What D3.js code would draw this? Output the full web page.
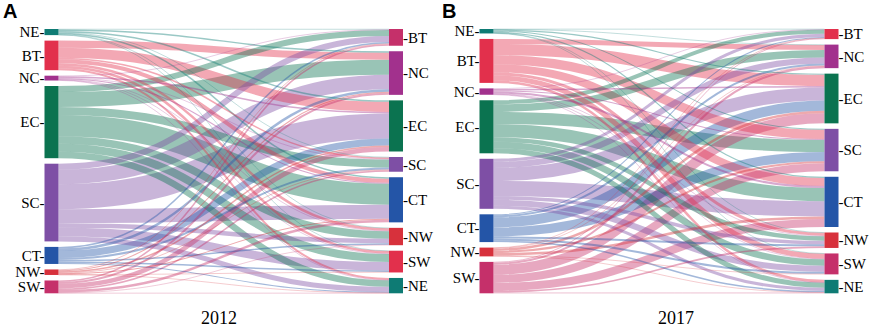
<!DOCTYPE html>
<html>
<head>
<meta charset="utf-8">
<script src="https://cdn.jsdelivr.net/npm/d3@7"></script>
<style>
  body { margin: 0; background: #fff; }
  svg { display: block; }
</style>
</head>
<body>
<svg id="chart" width="872" height="328"></svg>
<script>
// regions, in the order they are stacked on each side
const leftOrder = ['NE', 'BT', 'NC', 'EC', 'SC', 'CT', 'NW', 'SW']
const rightOrder = ['BT', 'NC', 'EC', 'SC', 'CT', 'NW', 'SW', 'NE']
const regionColors = {
  NE: '#0e7b74', BT: '#e2304c', NC: '#a2318d', EC: '#0b7350',
  SC: '#7e4fa5', CT: '#2455a7', NW: '#d7313c', SW: '#c5306a'
}
// in panel A the right-hand BT / SW boxes use each other's colour
const rightColors2012 = Object.assign({}, regionColors, {BT: '#c5306a', SW: '#e2304c'})
const panelLetters = ['A', 'B']
const years = ['2012', '2017']

// rows = source (leftOrder), columns = target (rightOrder)
const flows2012 = [
  [0.5, 1.5, 1.5, 0.5, 1.5, 0.3, 0.3, 0],    // NE
  [0,   7,   10,  1.5, 4,   2.5, 2.5, 2],    // BT
  [0.5, 0,   1.5, 0.5, 1,   0.5, 0.5, 0.3],  // NC
  [6,   15,  0,   8,   21,  7.5, 8,   6.5],  // EC
  [6,   14.5, 25, 0,   14,  4.5, 8.5, 5],    // SC
  [1.5, 2.5, 7,   2,   0,   1.5, 1.5, 1],    // CT
  [0.7, 1,   1.5, 0.7, 1,   0,   0.4, 0.2],  // NW
  [1.5, 2,   4.5, 1.5, 2.5, 0.5, 0,   0.3]   // SW
]
const flows2017 = [
  [0.3, 0.3, 1.2, 1,   1.2, 0.2, 0.2, 0],    // NE
  [0,   5,   11,  9,   8,   3,   5,   2.5],  // BT
  [0.5, 0,   1.5, 1,   2,   0.5, 0.5, 0.3],  // NC
  [4,   7.5, 0,   12,  13,  4.5, 6.5, 5],    // EC
  [3,   6,   13,  0,   15,  3.5, 6,   3],    // SC
  [1,   2,   10,  9,   0,   2,   2,   1.5],  // CT
  [0.4, 0.5, 2.5, 2,   2.5, 0,   0.5, 0.3],  // NW
  [0.8, 2,   10,  8,   8,   1.6, 0,   0.7]   // SW
]

const svg = d3.select('#chart')
const nodeW = 14
const nodePad = 5.5
const plotTop = 29
const plotBottom = 293.3
const labelFont = '"Liberation Serif", "Times New Roman", serif'

const panels = [
  {flows: flows2012, rightColors: rightColors2012, xLeft: 44.5, xRight: 389, letterX: 3, yearX: 219},
  {flows: flows2017, rightColors: regionColors, xLeft: 479.5, xRight: 824.5, letterX: 442, yearX: 676}
]

panels.forEach((p, pi) => drawPanel(p, pi))

function drawPanel(p, pi) {
  const g = svg.append('g')
  const flows = p.flows
  const leftSums = flows.map(row => d3.sum(row))
  const rightSums = rightOrder.map((_, j) => d3.sum(flows, row => row[j]))
  const total = d3.sum(leftSums)

  const hScale = d3.scaleLinear()
    .domain([0, total])
    .range([0, (plotBottom - plotTop) - nodePad * (leftOrder.length - 1)])

  // stack nodes on each side
  const leftNodes = []
  let y = plotTop
  leftOrder.forEach((name, i) => {
    const h = hScale(leftSums[i])
    leftNodes.push({name, y0: y, y1: y + h})
    y += h + nodePad
  })
  const rightNodes = []
  y = plotTop
  rightOrder.forEach((name, j) => {
    const h = hScale(rightSums[j])
    rightNodes.push({name, y0: y, y1: y + h})
    y += h + nodePad
  })

  // link offsets: at source sorted by target order, at target sorted by source order
  const links = []
  leftNodes.forEach((src, i) => {
    let off = src.y0
    rightOrder.forEach((tName, j) => {
      const v = flows[i][j]
      if (v > 0) {
        const w = hScale(v)
        links.push({source: src.name, i, j, value: v, width: w, sy: off + w / 2})
        off += w
      }
    })
  })
  rightNodes.forEach((tgt, j) => {
    let off = tgt.y0
    links.filter(l => l.j === j).sort((a, b) => a.i - b.i).forEach(l => {
      l.ty = off + l.width / 2
      off += l.width
    })
  })

  const x0 = p.xLeft + nodeW
  const x1 = p.xRight
  const linkGen = d3.linkHorizontal()
    .source(d => [x0, d.sy])
    .target(d => [x1, d.ty])

  g.append('g')
    .selectAll('path')
    .data(links.slice().sort((a, b) => b.value - a.value))
    .join('path')
      .attr('d', linkGen)
      .attr('fill', 'none')
      .attr('stroke', d => regionColors[d.source])
      .attr('stroke-opacity', 0.42)
      .attr('stroke-width', d => Math.max(0.6, d.width))

  g.append('g')
    .selectAll('rect')
    .data(leftNodes)
    .join('rect')
      .attr('x', p.xLeft)
      .attr('y', d => d.y0)
      .attr('width', nodeW)
      .attr('height', d => d.y1 - d.y0)
      .attr('fill', d => regionColors[d.name])

  g.append('g')
    .selectAll('rect')
    .data(rightNodes)
    .join('rect')
      .attr('x', p.xRight)
      .attr('y', d => d.y0)
      .attr('width', nodeW)
      .attr('height', d => d.y1 - d.y0)
      .attr('fill', d => p.rightColors[d.name])

  g.append('g')
    .selectAll('text')
    .data(leftNodes)
    .join('text')
      .attr('x', p.xLeft)
      .attr('y', d => (d.y0 + d.y1) / 2)
      .attr('dy', '0.35em')
      .attr('text-anchor', 'end')
      .style('font-family', labelFont)
      .style('font-size', '15px')
      .text(d => d.name + '-')

  g.append('g')
    .selectAll('text')
    .data(rightNodes)
    .join('text')
      .attr('x', p.xRight + nodeW)
      .attr('y', d => (d.y0 + d.y1) / 2)
      .attr('dy', '0.35em')
      .attr('text-anchor', 'start')
      .style('font-family', labelFont)
      .style('font-size', '15px')
      .text(d => '-' + d.name)

  g.append('text')
    .attr('x', p.yearX)
    .attr('y', 324)
    .attr('text-anchor', 'middle')
    .style('font-family', labelFont)
    .style('font-size', '18px')
    .text(years[pi])

  g.append('text')
    .attr('x', p.letterX)
    .attr('y', 18)
    .style('font-family', '"Liberation Sans", Arial, sans-serif')
    .style('font-weight', 'bold')
    .style('font-size', '20px')
    .text(panelLetters[pi])
}
</script>
</body>
</html>
